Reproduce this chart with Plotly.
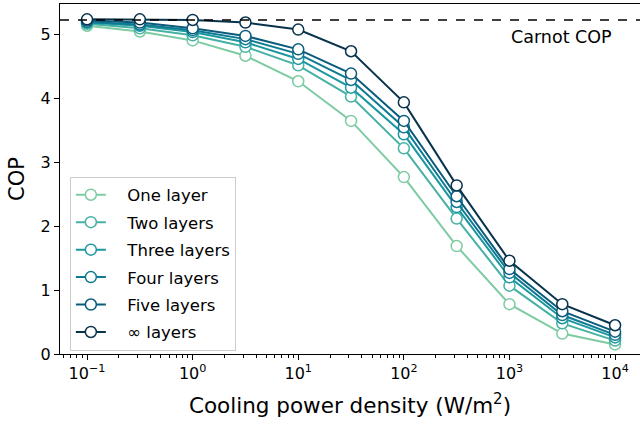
import plotly.graph_objects as go

x_vals = [0.1, 0.3162, 1, 3.162, 10, 31.62, 100, 316.2, 1000, 3162, 10000]
one_layer = [5.14, 5.05, 4.91, 4.67, 4.27, 3.65, 2.77, 1.69, 0.78, 0.32, 0.15]
two_layers = [5.17, 5.10, 4.99, 4.81, 4.52, 4.03, 3.22, 2.12, 1.07, 0.48, 0.21]
three_layers = [5.19, 5.14, 5.04, 4.88, 4.62, 4.17, 3.44, 2.30, 1.20, 0.56, 0.26]
four_layers = [5.20, 5.16, 5.07, 4.93, 4.70, 4.29, 3.55, 2.38, 1.27, 0.61, 0.30]
five_layers = [5.22, 5.19, 5.10, 4.98, 4.77, 4.39, 3.65, 2.47, 1.33, 0.67, 0.35]
inf_layers = [5.24, 5.24, 5.23, 5.19, 5.08, 4.74, 3.94, 2.64, 1.46, 0.78, 0.45]
carnot_cop = 5.23

series_names = ["One layer", "Two layers", "Three layers", "Four layers", "Five layers", "\u221e layers"]
series_vals = [one_layer, two_layers, three_layers, four_layers, five_layers, inf_layers]
colors = ["#7ccba2", "#46b1a4", "#1c97a0", "#0e7a91", "#0b5c7c", "#08334c"]

x_tickvals = [0.1, 1, 10, 100, 1000, 10000]
x_ticktext = ["10<sup>\u22121</sup>", "10<sup>0</sup>", "10<sup>1</sup>", "10<sup>2</sup>", "10<sup>3</sup>", "10<sup>4</sup>"]

fig = go.Figure()
for i, (name, vals, c) in enumerate(zip(series_names, series_vals, colors)):
    fig.add_trace(go.Scatter(
        x=x_vals, y=vals, name="\u2002\u2002" + name, mode="lines+markers", legendgroup=f"g{i}",
        line=dict(color=c, width=2),
        marker=dict(symbol="circle", size=11, color="white", line=dict(color=c, width=1.5)),
    ))

fig.add_hline(y=carnot_cop, line=dict(color="black", width=1.6, dash="dash"))
fig.add_annotation(x=0.864, xref="paper", y=carnot_cop, yref="y", text="Carnot COP",
                   showarrow=False, xanchor="center", yanchor="top", yshift=-5,
                   font=dict(size=17.5, color="black"))

font_family = "DejaVu Sans"
fig.update_layout(
    width=640, height=428,
    margin=dict(l=60, r=0, t=4, b=74),
    paper_bgcolor="white", plot_bgcolor="white",
    font=dict(family=font_family, size=16, color="black"),
    showlegend=True,
    legend=dict(x=0.017, y=0.01, xanchor="left", yanchor="bottom",
                bordercolor="#cccccc", borderwidth=1, bgcolor="white",
                font=dict(size=16.5), tracegroupgap=3, itemwidth=30),
    xaxis=dict(type="log", range=[-1.256, 4.236],
               tickvals=x_tickvals, ticktext=x_ticktext,
               ticks="outside", ticklen=5, tickwidth=1, tickcolor="black",
               showline=True, linecolor="black", linewidth=1, mirror=True,
               showgrid=False, zeroline=False,
               minor=dict(ticks="outside", ticklen=3, tickwidth=0.8, tickcolor="black",
                          dtick="D1", showgrid=False),
               title=dict(text="Cooling power density (W/m<sup>2</sup>)", font=dict(size=21.5), standoff=15),
               tickfont=dict(size=16)),
    yaxis=dict(range=[0, 5.48], tickvals=[0, 1, 2, 3, 4, 5],
               ticks="outside", ticklen=5, tickwidth=1, tickcolor="black",
               showline=True, linecolor="black", linewidth=1, mirror=False,
               showgrid=False, zeroline=False,
               title=dict(text="COP", font=dict(size=21), standoff=10),
               tickfont=dict(size=16)),
)

fig.write_html("out.html")
